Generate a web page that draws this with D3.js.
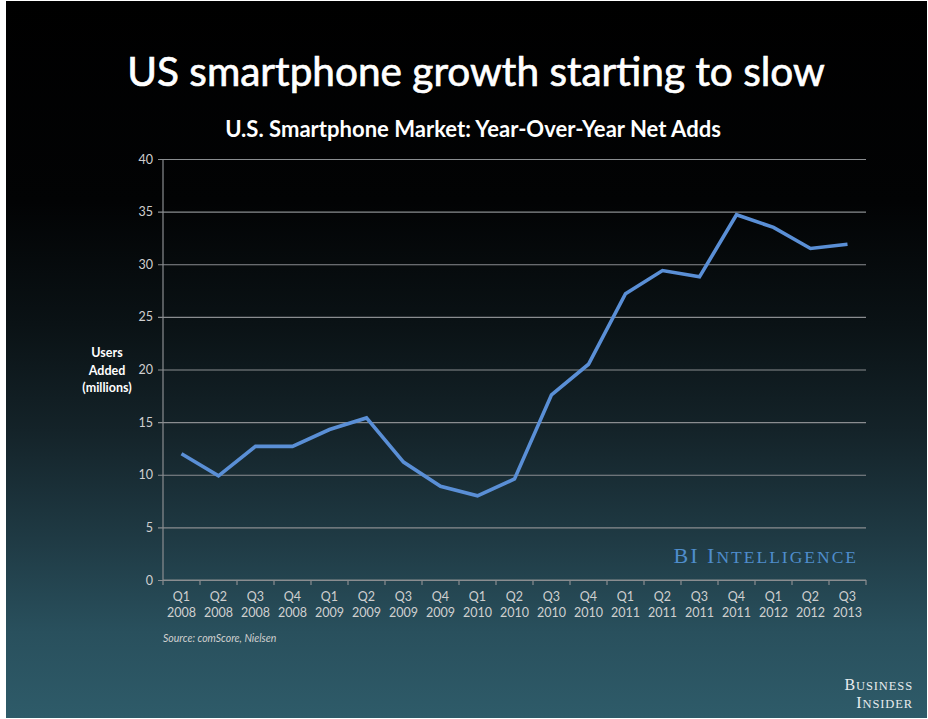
<!DOCTYPE html>
<html>
<head>
<meta charset="utf-8">
<script src="https://cdn.jsdelivr.net/npm/d3@7"></script>
<style>
  html, body { margin: 0; padding: 0; background: #fff; }
  svg { display: block; }
</style>
</head>
<body>
<svg id="chart" width="928" height="719"></svg>
<script>
// Quarterly year-over-year net adds of US smartphone users (millions)
const quarters = ["Q1","Q2","Q3","Q4","Q1","Q2","Q3","Q4","Q1","Q2","Q3","Q4","Q1","Q2","Q3","Q4","Q1","Q2","Q3"];
const years    = ["2008","2008","2008","2008","2009","2009","2009","2009","2010","2010","2010","2010","2011","2011","2011","2011","2012","2012","2013"];
const netAdds  = [12.0, 9.9, 12.7, 12.7, 14.3, 15.4, 11.2, 8.9, 8.0, 9.6, 17.6, 20.5, 27.2, 29.4, 28.8, 34.7, 33.5, 31.5, 31.9];
const yTicks   = [0, 5, 10, 15, 20, 25, 30, 35, 40];

const svg = d3.select("#chart");
const W = 928, H = 719;
const plot = { left: 163, right: 866, top: 159, bottom: 580 };
const sans = "Lato, 'Open Sans', sans-serif";
const serif = "'Liberation Serif', 'DejaVu Serif', serif";

// Backdrop: black at the top fading into slate teal at the bottom
const defs = svg.append("defs");
const grad = defs.append("linearGradient")
  .attr("id", "bg").attr("x1", 0).attr("y1", 0).attr("x2", 0).attr("y2", 1);
[[0, "#000000"], [0.28, "#020304"], [0.45, "#0a1215"], [0.6, "#142329"],
 [0.75, "#1f3a44"], [0.88, "#29505d"], [1, "#2e5b69"]]
  .forEach(([o, c]) => grad.append("stop").attr("offset", o).attr("stop-color", c));

svg.append("rect").attr("x", 6).attr("y", 1).attr("width", W - 7).attr("height", H - 2)
  .attr("fill", "url(#bg)");

// Scales
const x = d3.scaleBand().domain(d3.range(netAdds.length)).range([plot.left, plot.right]);
const y = d3.scaleLinear().domain([0, 40]).range([plot.bottom, plot.top]);

// Horizontal gridlines with short left ticks, and y labels
const yAxis = d3.axisLeft(y).tickValues(yTicks).tickSize(-(plot.right - plot.left)).tickPadding(10);
const gy = svg.append("g").attr("transform", `translate(${plot.left},0)`).call(yAxis);
gy.select(".domain").remove();
gy.selectAll(".tick line")
  .attr("x1", -5)
  .attr("stroke", "#8a8d90").attr("stroke-width", 1.2);
gy.selectAll(".tick text")
  .attr("fill", "#d0d0d0").attr("font-family", sans).attr("font-size", 12.5);

// Vertical axis line
svg.append("line")
  .attr("x1", plot.left).attr("x2", plot.left)
  .attr("y1", plot.top).attr("y2", plot.bottom)
  .attr("stroke", "#8a8d90").attr("stroke-width", 1.2);

// Category axis: baseline with ticks at band edges, two-line labels
const gx = svg.append("g").attr("transform", `translate(0,${plot.bottom})`);
gx.append("line").attr("x1", plot.left).attr("x2", plot.right)
  .attr("stroke", "#8a8d90").attr("stroke-width", 1.2);
gx.selectAll("line.edge")
  .data(d3.range(netAdds.length + 1))
  .join("line").attr("class", "edge")
  .attr("x1", i => i < netAdds.length ? x(i) : plot.right)
  .attr("x2", i => i < netAdds.length ? x(i) : plot.right)
  .attr("y1", 0).attr("y2", 5)
  .attr("stroke", "#8a8d90").attr("stroke-width", 1.2);
const lbl = gx.selectAll("text.q")
  .data(netAdds.map((_, i) => i))
  .join("text").attr("class", "q")
  .attr("text-anchor", "middle")
  .attr("fill", "#d0d0d0").attr("font-family", sans).attr("font-size", 12.5);
lbl.append("tspan").attr("x", i => x(i) + x.bandwidth() / 2).attr("y", 21).text(i => quarters[i]);
lbl.append("tspan").attr("x", i => x(i) + x.bandwidth() / 2).attr("y", 37).text(i => years[i]);

// Data line
const line = d3.line()
  .x((d, i) => x(i) + x.bandwidth() / 2)
  .y(d => y(d));
svg.append("path").datum(netAdds)
  .attr("d", line)
  .attr("fill", "none")
  .attr("stroke", "#5a8fd6")
  .attr("stroke-width", 3.6)
  .attr("stroke-linejoin", "miter");

// Helper that sizes a text element to span a given width
function fitWidth(sel, width) {
  const base = +sel.attr("font-size");
  const w = sel.node().getComputedTextLength();
  sel.attr("font-size", base * width / w);
}

// Titles
const title = svg.append("text")
  .attr("x", 476).attr("y", 86).attr("text-anchor", "middle")
  .attr("fill", "#ffffff").attr("stroke", "#ffffff").attr("stroke-width", 0.7)
  .attr("font-family", sans).attr("font-size", 38)
  .text("US smartphone growth starting to slow");
fitWidth(title, 698);

const sub = svg.append("text")
  .attr("x", 473).attr("y", 137).attr("text-anchor", "middle")
  .attr("fill", "#ffffff").attr("font-family", sans).attr("font-weight", "bold").attr("font-size", 18)
  .text("U.S. Smartphone Market: Year-Over-Year Net Adds");
fitWidth(sub, 496);

// Y axis title
const yt = svg.append("text").attr("text-anchor", "middle")
  .attr("fill", "#ffffff").attr("font-family", sans).attr("font-weight", "bold").attr("font-size", 12.5);
["Users", "Added", "(millions)"].forEach((t, i) =>
  yt.append("tspan").attr("x", 107).attr("y", 357 + i * 17.5).text(t));

// Source note
svg.append("text")
  .attr("x", 163).attr("y", 642)
  .attr("fill", "#d0d0d0").attr("font-family", sans).attr("font-style", "italic").attr("font-size", 10.5)
  .text("Source: comScore, Nielsen");

// Small-caps wordmarks built from large initials and smaller capitals
function smallCaps(textSel, parts, big, small) {
  parts.forEach(([s, isBig]) =>
    textSel.append("tspan").attr("font-size", isBig ? big : small).text(s));
}

const biI = svg.append("text")
  .attr("x", 858).attr("y", 563).attr("text-anchor", "end")
  .attr("fill", "#4f8dcc").attr("font-family", serif).attr("letter-spacing", 2);
smallCaps(biI, [["BI I", true], ["NTELLIGENCE", false]], 22, 17.5);

const bi1 = svg.append("text")
  .attr("x", 913).attr("y", 690).attr("text-anchor", "end")
  .attr("fill", "#e8ecee").attr("font-family", serif).attr("letter-spacing", 0.9);
smallCaps(bi1, [["B", true], ["USINESS", false]], 16, 12.5);
const bi2 = svg.append("text")
  .attr("x", 913).attr("y", 708).attr("text-anchor", "end")
  .attr("fill", "#e8ecee").attr("font-family", serif).attr("letter-spacing", 0.9);
smallCaps(bi2, [["I", true], ["NSIDER", false]], 16, 12.5);
</script>
</body>
</html>
